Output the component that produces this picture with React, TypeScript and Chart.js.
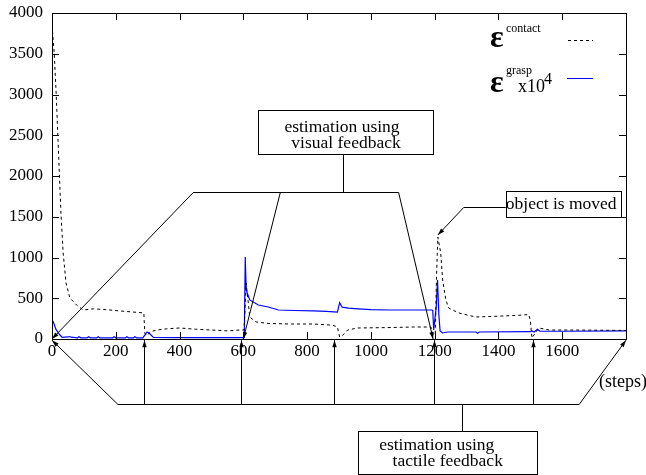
import React, { useEffect, useRef } from "react";
import { Chart, registerables } from "chart.js";
Chart.register(...registerables);

const FONT = '"Liberation Serif", "Times New Roman", serif';

// epsilon^contact (dashed black)
const contactSteps = [0, 7, 13, 18, 23, 28, 35, 44, 56, 77, 98, 130, 170, 210, 254, 288, 291, 296, 310, 328, 360, 400, 450, 500, 550, 590, 602, 606, 609, 613, 620, 640, 680, 750, 820, 880, 895, 902, 910, 927, 958, 1050, 1134, 1188, 1196, 1202, 1206, 1210, 1219, 1225, 1235, 1244, 1276, 1329, 1400, 1460, 1495, 1500, 1505, 1515, 1527, 1560, 1650, 1800];
const contactValues = [3853, 3505, 3018, 2528, 2037, 1546, 1055, 687, 503, 417, 356, 370, 360, 345, 331, 320, 74, 40, 90, 110, 125, 135, 120, 110, 100, 110, 110, 400, 687, 540, 270, 209, 190, 184, 184, 170, 147, 25, 40, 110, 135, 140, 147, 147, 49, 60, 800, 1251, 1055, 724, 479, 380, 319, 270, 280, 290, 300, 230, 12, 70, 135, 110, 110, 105];

// epsilon^grasp x10^4 (blue)
const graspSteps = [0, 4, 12, 25, 32, 50, 55, 60, 80, 85, 90, 110, 115, 120, 140, 145, 150, 190, 195, 200, 230, 235, 240, 255, 260, 265, 285, 298, 305, 318, 400, 500, 600, 603, 606, 609, 620, 647, 678, 710, 760, 820, 860, 895, 902, 910, 930, 960, 1000, 1060, 1120, 1190, 1194, 1197, 1205, 1209, 1213, 1217, 1225, 1240, 1330, 1335, 1340, 1500, 1505, 1512, 1522, 1530, 1600, 1800];
const graspValues = [230, 212, 120, 49, 20, 25, 30, 22, 15, 28, 15, 15, 28, 15, 15, 28, 15, 15, 28, 15, 15, 28, 15, 15, 28, 15, 15, 86, 70, 20, 18, 17, 18, 20, 1006, 601, 479, 417, 393, 356, 350, 345, 340, 330, 445, 390, 380, 370, 360, 356, 356, 356, 350, 110, 400, 724, 300, 100, 74, 86, 86, 70, 86, 90, 100, 86, 120, 95, 95, 100];

const xMin = 0, xMax = 1800, xStep = 200;
const yMin = 0, yMax = 4000, yStep = 500;
const hiddenXLabels = [1800];

// annotations (in data units)
const visualLines = ["estimation using", "visual feedback"];
const tactileLines = ["estimation using", "tactile feedback"];
const movedText = "object is moved";
const stepsText = "(steps)";

function arrow(ctx: CanvasRenderingContext2D, x1: number, y1: number, x2: number, y2: number, head = true) {
  ctx.beginPath();
  ctx.moveTo(x1, y1);
  ctx.lineTo(x2, y2);
  ctx.stroke();
  if (!head) return;
  const a = Math.atan2(y2 - y1, x2 - x1);
  const L = 7, W = 2.2;
  ctx.beginPath();
  ctx.moveTo(x2, y2);
  ctx.lineTo(x2 - L * Math.cos(a) + W * Math.sin(a), y2 - L * Math.sin(a) - W * Math.cos(a));
  ctx.lineTo(x2 - L * Math.cos(a) - W * Math.sin(a), y2 - L * Math.sin(a) + W * Math.cos(a));
  ctx.closePath();
  ctx.fill();
}

const decorPlugin = {
  id: "decor",
  afterDraw(chart: any) {
    const ctx: CanvasRenderingContext2D = chart.ctx;
    const { left, right, top, bottom } = chart.chartArea;
    const xs = chart.scales.x, ys = chart.scales.y;
    const X = (v: number) => xs.getPixelForValue(v);
    const Y = (v: number) => ys.getPixelForValue(v);
    ctx.save();
    ctx.strokeStyle = "#000";
    ctx.fillStyle = "#000";
    ctx.lineWidth = 1;
    // frame
    ctx.strokeRect(Math.round(left) + 0.5, Math.round(top) + 0.5, Math.round(right - left), Math.round(bottom - top));
    // inward ticks
    ctx.beginPath();
    for (let v = xMin; v <= xMax; v += xStep) {
      const px = Math.round(X(v)) + 0.5;
      ctx.moveTo(px, bottom); ctx.lineTo(px, bottom - 7);
      ctx.moveTo(px, top); ctx.lineTo(px, top + 7);
    }
    for (let v = yMin; v <= yMax; v += yStep) {
      const py = Math.round(Y(v)) + 0.5;
      ctx.moveTo(left, py); ctx.lineTo(left + 7, py);
      ctx.moveTo(right, py); ctx.lineTo(right - 7, py);
    }
    ctx.stroke();

    ctx.textBaseline = "middle";
    ctx.font = `17.5px ${FONT}`;

    // visual feedback annotation
    const vb = { x0: X(647), x1: X(1197), y0: Y(2810), y1: Y(2270) };
    ctx.strokeRect(Math.round(vb.x0) + 0.5, Math.round(vb.y0) + 0.5, Math.round(vb.x1 - vb.x0), Math.round(vb.y1 - vb.y0));
    const vcx = (vb.x0 + vb.x1) / 2;
    ctx.textAlign = "center";
    ctx.fillText(visualLines[0], vcx - 4, vb.y0 + 17);
    ctx.fillText(visualLines[1], vcx, vb.y0 + 33);
    const vBarY = Math.round(Y(1804)) + 0.5;
    ctx.beginPath();
    ctx.moveTo(Math.round(X(911)) + 0.5, vb.y1);
    ctx.lineTo(Math.round(X(911)) + 0.5, vBarY);
    ctx.moveTo(X(443), vBarY);
    ctx.lineTo(X(1087), vBarY);
    ctx.stroke();
    arrow(ctx, X(443), vBarY, X(0), Y(0));
    arrow(ctx, X(716), vBarY, X(600), Y(0));
    arrow(ctx, X(1087), vBarY, X(1195), Y(0));

    // tactile feedback annotation
    const tBarY = Math.round(Y(-798)) + 0.5;
    ctx.beginPath();
    ctx.moveTo(X(207), tBarY);
    ctx.lineTo(X(1653), tBarY);
    ctx.stroke();
    arrow(ctx, X(207), tBarY, X(0), Y(-15));
    for (const s of [289, 594, 883, 1197, 1508]) {
      const px = Math.round(X(s)) + 0.5;
      arrow(ctx, px, tBarY, px, Y(-15));
    }
    arrow(ctx, X(1653), tBarY, X(1800), Y(-15));
    const tb = { x0: X(961), x1: X(1521), y0: Y(-1129), y1: Y(-1656) };
    ctx.beginPath();
    ctx.moveTo(Math.round(X(1285)) + 0.5, tBarY);
    ctx.lineTo(Math.round(X(1285)) + 0.5, tb.y0);
    ctx.stroke();
    ctx.strokeRect(Math.round(tb.x0) + 0.5, Math.round(tb.y0) + 0.5, Math.round(tb.x1 - tb.x0), Math.round(tb.y1 - tb.y0));
    const tcx = (tb.x0 + tb.x1) / 2;
    ctx.fillText(tactileLines[0], tcx - 11, tb.y0 + 14);
    ctx.fillText(tactileLines[1], tcx, tb.y0 + 30);

    // object is moved
    const ob = { x0: X(1423), x1: X(1784), y0: Y(1816), y1: Y(1497) };
    ctx.strokeRect(Math.round(ob.x0) + 0.5, Math.round(ob.y0) + 0.5, Math.round(ob.x1 - ob.x0), Math.round(ob.y1 - ob.y0));
    ctx.textAlign = "left";
    ctx.fillText(movedText, ob.x0, (ob.y0 + ob.y1) / 2);
    const oy = Math.round(Y(1620)) + 0.5;
    ctx.beginPath();
    ctx.moveTo(ob.x0, oy);
    ctx.lineTo(X(1291), oy);
    ctx.stroke();
    arrow(ctx, X(1291), oy, X(1210), Y(1276));

    // (steps)
    ctx.font = `18px ${FONT}`;
    ctx.fillText(stepsText, X(1715), Y(-528));

    // legend
    const lx = right - 136;
    ctx.textBaseline = "alphabetic";
    ctx.font = `bold 32px ${FONT}`;
    ctx.fillText("\u03b5", lx, top + 34);
    ctx.fillText("\u03b5", lx, top + 79);
    ctx.font = `12px ${FONT}`;
    ctx.fillText("contact", lx + 16, top + 19);
    ctx.fillText("grasp", lx + 16, top + 61);
    ctx.font = `18px ${FONT}`;
    ctx.fillText("x10", lx + 28, top + 79);
    ctx.font = `16px ${FONT}`;
    ctx.fillText("4", lx + 54, top + 71);
    ctx.beginPath();
    ctx.setLineDash([3, 3]);
    ctx.strokeStyle = "#000";
    ctx.moveTo(right - 58, top + 27.5);
    ctx.lineTo(right - 33, top + 27.5);
    ctx.stroke();
    ctx.setLineDash([]);
    ctx.beginPath();
    ctx.strokeStyle = "#0000ff";
    ctx.moveTo(right - 59, top + 65.5);
    ctx.lineTo(right - 33, top + 65.5);
    ctx.stroke();
    ctx.restore();
  },
};

export default function App() {
  const ref = useRef<HTMLCanvasElement>(null);
  useEffect(() => {
    if (!ref.current) return;
    const contact = contactSteps.map((s, i) => ({ x: s, y: contactValues[i] }));
    const grasp = graspSteps.map((s, i) => ({ x: s, y: graspValues[i] }));
    const chart = new Chart(ref.current, {
      type: "line",
      data: {
        datasets: [
          { label: "contact", data: contact, borderColor: "#000", borderWidth: 1, borderDash: [3, 3], pointRadius: 0, tension: 0, fill: false },
          { label: "grasp", data: grasp, borderColor: "#0000ff", borderWidth: 1.2, pointRadius: 0, tension: 0, fill: false },
        ],
      },
      options: {
        responsive: false,
        animation: false,
        events: [],
        layout: { padding: { left: 0, top: 13, right: 20, bottom: 106 } },
        plugins: { legend: { display: false }, tooltip: { enabled: false } },
        scales: {
          x: {
            type: "linear",
            min: xMin,
            max: xMax,
            grid: { display: false, drawTicks: false },
            border: { display: false },
            ticks: {
              stepSize: xStep,
              padding: 2,
              color: "#000",
              font: { family: FONT, size: 17 },
              maxRotation: 0,
              autoSkip: false,
              callback: (v: any) => (hiddenXLabels.includes(Number(v)) ? "" : String(v)),
            },
            afterFit: (s: any) => { s.height = 30; s.paddingLeft = 0; s.paddingRight = 0; },
          },
          y: {
            min: yMin,
            max: yMax,
            grid: { display: false, drawTicks: false },
            border: { display: false },
            ticks: {
              stepSize: yStep,
              padding: 9,
              color: "#000",
              font: { family: FONT, size: 17 },
              callback: (v: any) => String(v),
            },
            afterFit: (s: any) => { s.width = 52; s.paddingTop = 0; s.paddingBottom = 0; },
          },
        },
      },
      plugins: [decorPlugin],
    });
    return () => chart.destroy();
  }, []);
  return (
    <div style={{ position: "fixed", left: 0, top: 0, width: 646, height: 475, background: "#fff" }}>
      <canvas ref={ref} width={646} height={475} style={{ display: "block" }} />
    </div>
  );
}
